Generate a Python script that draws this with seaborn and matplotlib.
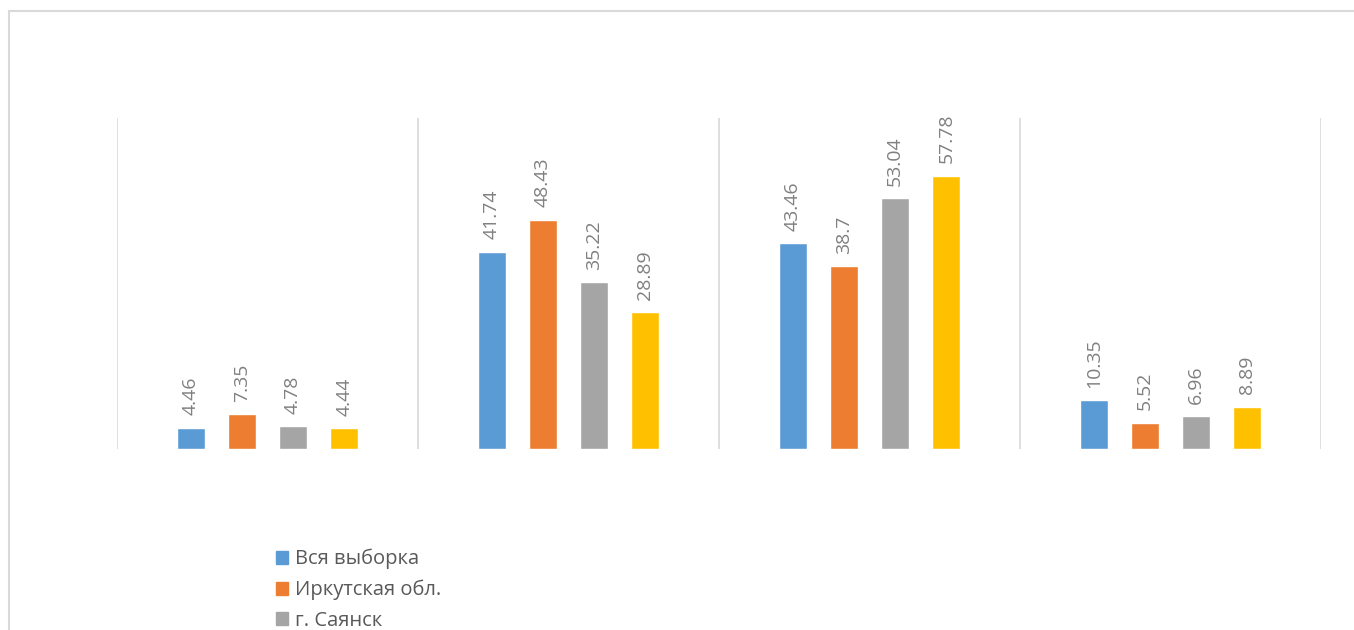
import pandas as pd
import numpy as np
import matplotlib.pyplot as plt
import seaborn as sns
from matplotlib.patches import Rectangle, Patch

sns.set_theme(style="white")
plt.rcParams['font.family'] = ['Open Sans', 'DejaVu Sans']

groups = ["1", "2", "3", "4"]
series = ["Вся выборка", "Иркутская обл.", "г. Саянск", "Серия 4"]
vse = [4.46, 41.74, 43.46, 10.35]
irk = [7.35, 48.43, 38.7, 5.52]
sayansk = [4.78, 35.22, 53.04, 6.96]
s4 = [4.44, 28.89, 57.78, 8.89]
colors = ["#5b9bd5", "#ed7d31", "#a5a5a5", "#ffc000"]

df = pd.DataFrame({
    "group": groups * 4,
    "series": np.repeat(series, 4),
    "value": vse + irk + sayansk + s4,
})

fig = plt.figure(figsize=(13.54, 6.3), dpi=100)
ax = fig.add_axes([117/1354, 1-449/630, (1321-117)/1354, (449-118)/630])
sns.barplot(data=df, x="group", y="value", hue="series", hue_order=series,
            palette=colors, width=0.68, gap=0.45, ax=ax, legend=False,
            errorbar=None, saturation=1)

for cont in ax.containers:
    vals = cont.datavalues
    ax.bar_label(cont, labels=[f"{v:g}" for v in vals], rotation=90,
                 padding=9, fontsize=14, color="#808080")

ax.set_ylim(0, 70)
ax.set_xlim(-0.5, 3.5)
for x in np.arange(-0.5, 4, 1):
    ax.axvline(x, color="#d9d9d9", lw=1.2)
ax.set_xticks([])
ax.set_yticks([])
ax.set_xlabel("")
ax.set_ylabel("")
for s in ax.spines.values():
    s.set_visible(False)

handles = [Patch(color=c) for c in colors[:3]]
fig.legend(handles, series[:3], loc="upper left",
           bbox_to_anchor=(276/1354, 1-549/630), frameon=False,
           fontsize=14.5, labelcolor="#595959", handlelength=0.62,
           handleheight=0.62, handletextpad=0.3, labelspacing=0.52,
           borderaxespad=0, borderpad=0)

fig.patches.append(Rectangle((9/1354, -0.1), 1.2, 1-11/630+0.1,
                             transform=fig.transFigure, fill=False,
                             edgecolor="#d9d9d9", lw=1.5))

fig.savefig("out.png", dpi=100)
